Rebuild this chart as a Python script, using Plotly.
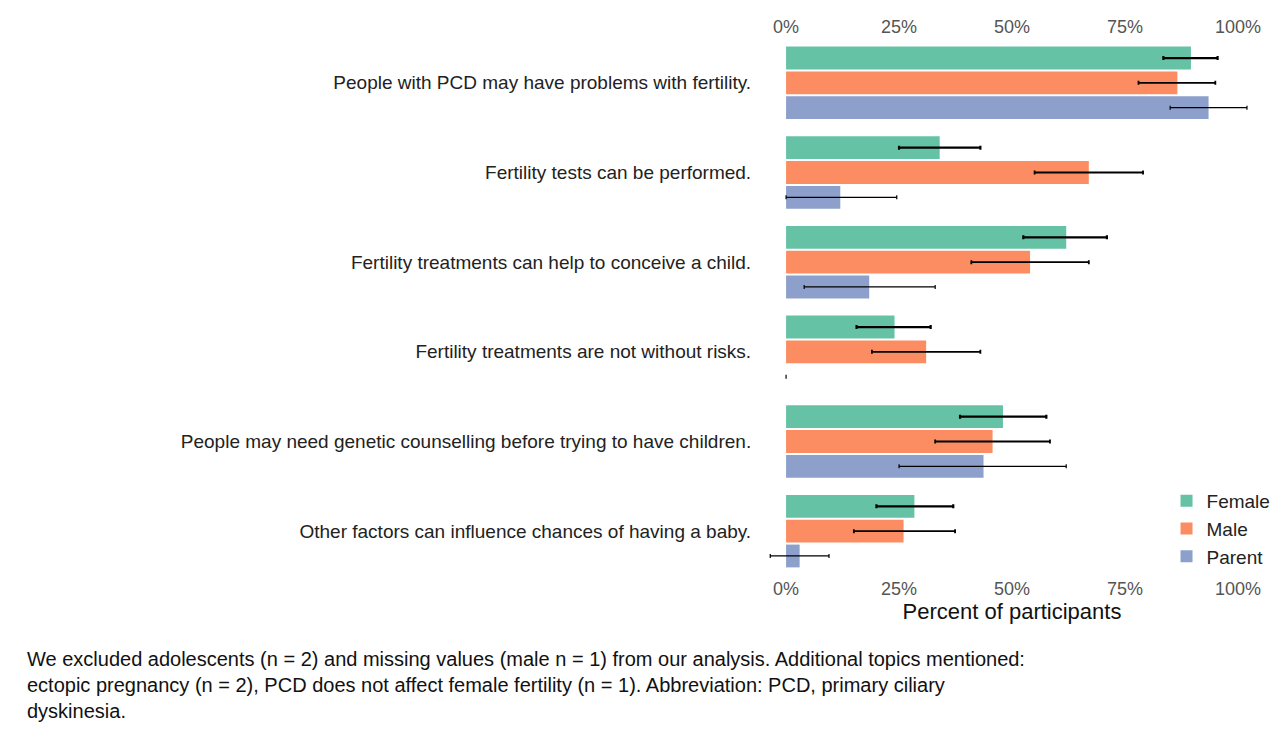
import plotly.graph_objects as go

# statements (top to bottom)
statements = [
    "People with PCD may have problems with fertility.",
    "Fertility tests can be performed.",
    "Fertility treatments can help to conceive a child.",
    "Fertility treatments are not without risks.",
    "People may need genetic counselling before trying to have children.",
    "Other factors can influence chances of having a baby.",
]

female = [89.6, 34, 62, 24, 48, 28.4]
female_lo = [83.5, 25, 52.5, 15.6, 38.5, 20]
female_hi = [95.5, 43, 71, 32, 57.6, 37]

male = [86.6, 67, 54, 31, 45.7, 26]
male_lo = [78, 55, 41, 19, 33, 15]
male_hi = [95, 79, 67, 43, 58.4, 37.4]

parent = [93.5, 12, 18.4, 0, 43.7, 3]
parent_lo = [85, 0, 4, 0, 25, -3.5]
parent_hi = [102, 24.5, 33, 0, 62, 9.5]

ticks = [0, 25, 50, 75, 100]
tick_text = ["0%", "25%", "50%", "75%", "100%"]

groups = [
    ("Female", female, female_lo, female_hi, "#66c2a5", 2.2),
    ("Male", male, male_lo, male_hi, "#fc8d62", 1.8),
    ("Parent", parent, parent_lo, parent_hi, "#8da0cb", 1.2),
]

fig = go.Figure()
for name, vals, lo, hi, color, w in groups:
    fig.add_trace(go.Bar(
        y=statements, x=vals, name=name, orientation="h",
        marker=dict(color=color, line=dict(width=0)),
        error_x=dict(type="data", symmetric=False,
                     array=[h - v for h, v in zip(hi, vals)],
                     arrayminus=[v - l for v, l in zip(vals, lo)],
                     color="black", thickness=w, width=2),
    ))

# invisible trace to carry the top axis
fig.add_trace(go.Scatter(x=[0, 100], y=[statements[0], statements[0]], xaxis="x2",
                         mode="markers", marker=dict(opacity=0),
                         showlegend=False, hoverinfo="skip"))

axis_common = dict(range=[-4, 104], tickvals=ticks, ticktext=tick_text,
                   showgrid=False, zeroline=False, showline=False, automargin=False,
                   tickfont=dict(size=18, color="#555555"), ticks="")

fig.update_layout(
    width=1280, height=730,
    barmode="group", bargap=0.17, bargroupgap=0.08,
    plot_bgcolor="white", paper_bgcolor="white",
    font=dict(family="Liberation Sans, Arial, sans-serif", color="#222222"),
    margin=dict(l=760, r=21, t=30, b=162),
    xaxis=dict(**axis_common, title=dict(text="Percent of participants",
                                         font=dict(size=22, color="#111111"),
                                         standoff=4)),
    xaxis2=dict(**axis_common, overlaying="x", side="top", matches="x"),
    yaxis=dict(autorange="reversed", showgrid=False, ticks="", automargin=False,
               tickfont=dict(size=19, color="#222222"), ticksuffix="   "),
    legend=dict(x=1.04, y=0.0, xanchor="right", yanchor="bottom",
                font=dict(size=19), bgcolor="rgba(255,255,255,0)",
                tracegroupgap=0, itemsizing="constant"),
    annotations=[dict(
        text=("We excluded adolescents (n = 2) and missing values (male n = 1) from our analysis. "
              "Additional topics mentioned:<br>ectopic pregnancy (n = 2), PCD does not affect "
              "female fertility (n = 1). Abbreviation: PCD, primary ciliary<br>dyskinesia."),
        xref="paper", yref="paper", x=-760 / 499, y=-0.13,
        xanchor="left", yanchor="top", align="left", showarrow=False,
        font=dict(size=20, color="#111111"),
    )],
)

fig.write_html("out.html")
